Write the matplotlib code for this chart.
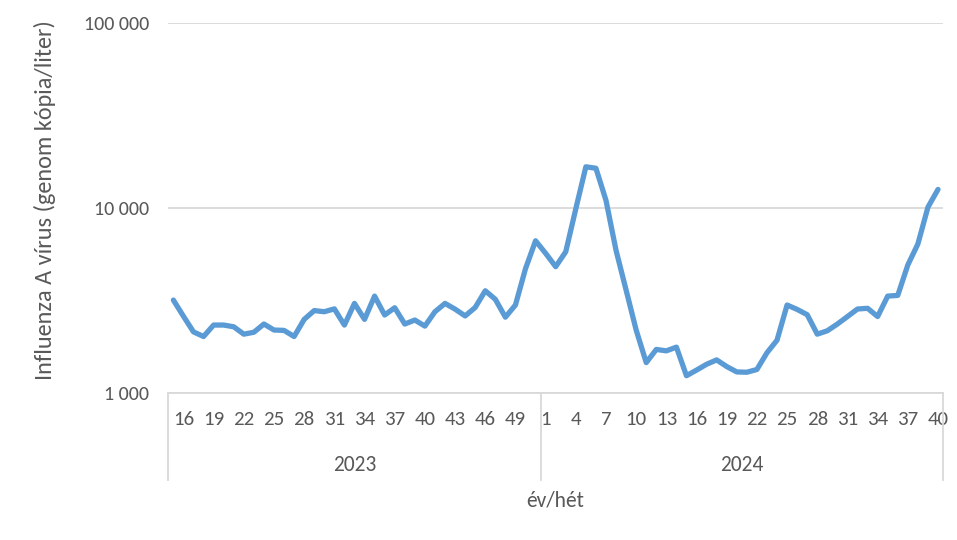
import matplotlib
matplotlib.use("Agg")
import matplotlib.pyplot as plt
from matplotlib.ticker import FixedLocator, NullLocator

plt.rcParams["font.family"] = ["Liberation Sans Narrow", "Carlito", "DejaVu Sans"]

# weekly values, 2023 w15-w51 and 2024 w1-w40
weeks_2023 = list(range(15, 52))
weeks_2024 = list(range(1, 41))
values_2023 = [
    3180, 2600, 2140, 2020, 2330, 2330, 2280, 2080, 2130, 2360,
    2190, 2180, 2020, 2500, 2790, 2750, 2850, 2330, 3050, 2500,
    3340, 2640, 2890, 2360, 2480, 2300, 2750, 3050, 2840, 2610,
    2900, 3570, 3210, 2570, 2990, 4700, 6650,
]
values_2024 = [
    5690, 4820, 5800, 9900, 16700, 16400, 11000, 5900, 3600, 2190,
    1460, 1720, 1690, 1770, 1240, 1330, 1430, 1510, 1390, 1300,
    1295, 1340, 1650, 1930, 2990, 2830, 2650, 2080, 2170, 2360,
    2590, 2845, 2870, 2590, 3340, 3370, 4920, 6390, 10100, 12600,
]
years = ["2023", "2024"]
y_ticks = [1000, 10000, 100000]
y_tick_labels = ["1 000", "10 000", "100 000"]

TEXT = "#595959"
GRID = "#d9d9d9"
LINE = "#5b9bd5"

week_labels = [str(w) for w in weeks_2023 + weeks_2024]
values = values_2023 + values_2024
x = list(range(len(values)))
n23 = len(weeks_2023)

fig = plt.figure(figsize=(9.57, 5.4), dpi=100)
ax = fig.add_axes([0.1759, 0.2722, 0.8095, 0.6852])

ax.plot(x, values, color=LINE, linewidth=3.8, solid_joinstyle="round",
        solid_capstyle="round", zorder=3)

ax.set_yscale("log")
ax.set_ylim(1000, 100000)
ax.set_xlim(-0.5, len(values) - 0.5)
ax.yaxis.set_major_locator(FixedLocator(y_ticks))
ax.yaxis.set_minor_locator(NullLocator())
ax.set_yticklabels(y_tick_labels)
ax.grid(axis="y", color=GRID, linewidth=1.3)
ax.set_axisbelow(True)

# every third week label, starting at the second category
tick_idx = x[1::3]
ax.set_xticks(tick_idx)
ax.set_xticklabels([week_labels[i] for i in tick_idx])

for s in ["top", "right", "left"]:
    ax.spines[s].set_visible(False)
ax.spines["bottom"].set_color(GRID)
ax.spines["bottom"].set_linewidth(1.3)

ax.tick_params(axis="x", length=0, pad=13, labelsize=15, colors=TEXT)
ax.tick_params(axis="y", length=0, pad=14, labelsize=14.5, colors=TEXT)

# year group separators and labels
trans = ax.get_xaxis_transform()
for xb in [-0.5, n23 - 0.5, len(values) - 0.5]:
    ax.plot([xb, xb], [0, -0.235], transform=trans, color=GRID,
            linewidth=1.3, clip_on=False)
ax.text((n23 - 1) / 2, -0.195, years[0], transform=trans, ha="center",
        va="center", fontsize=15.5, color=TEXT)
ax.text((n23 + len(values) - 1) / 2, -0.195, years[1], transform=trans,
        ha="center", va="center", fontsize=15.5, color=TEXT)

ax.text(0.5, -0.29, "év/hét", transform=ax.transAxes, ha="center",
        va="center", fontsize=15.5, color=TEXT)
fig.text(0.047, 0.63, "Influenza A vírus (genom kópia/liter)", rotation=90,
         ha="center", va="center", fontsize=17.5, color=TEXT)

fig.savefig("out.png", dpi=100)
